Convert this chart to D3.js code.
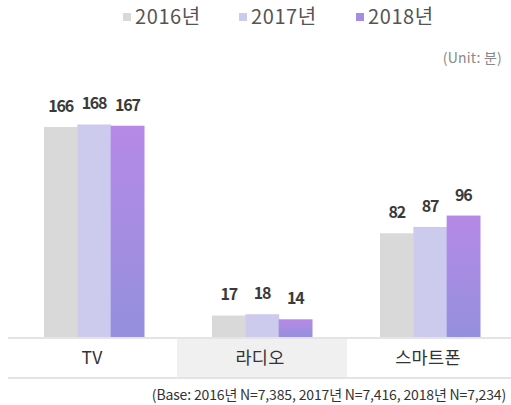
<!DOCTYPE html>
<meta charset="utf-8">
<script src="https://d3js.org/d3.v7.min.js"></script>
<style>
  body { margin: 0; background: #fff; }
  text { font-family: "Noto Sans CJK KR", "Noto Sans", sans-serif; }
  text.legend { font-size: 20px; fill: #555; letter-spacing: 0.6px; }
  text.value { font-size: 16px; font-weight: bold; fill: #3a3a3a; letter-spacing: -1.2px; }
  text.cat { font-size: 17.5px; fill: #333; letter-spacing: 0.3px; }
  text.unit { font-size: 14px; fill: #888; letter-spacing: 0.2px; }
  text.note { font-size: 14px; fill: #333; letter-spacing: -0.15px; }
</style>
<div id="chart"></div>
<script>
// data
var categories = ["TV", "라디오", "스마트폰"];
var years = ["2016년", "2017년", "2018년"];
var v2016 = [166, 17, 82];
var v2017 = [168, 18, 87];
var v2018 = [167, 14, 96];
var series = [v2016, v2017, v2018];

var W = 511, H = 405;
var base = 337, bottom = 378;

var svg = d3.select("#chart").append("svg")
    .attr("width", W)
    .attr("height", H);

var defs = svg.append("defs");
var grad = defs.append("linearGradient")
    .attr("id", "g18")
    .attr("x1", 0).attr("y1", 0).attr("x2", 0).attr("y2", 1);
grad.append("stop").attr("offset", "0%").attr("stop-color", "#b689e6");
grad.append("stop").attr("offset", "100%").attr("stop-color", "#9490dd");

var fills = ["#d9d9d9", "#cccbee", "url(#g18)"];
var legendFills = ["#d9d9d9", "#cccbee", "#a68ce2"];

// scales
var x = d3.scaleBand()
    .domain(categories)
    .range([10, 514])
    .paddingInner(0);

var xs = d3.scaleBand()
    .domain(years)
    .range([0, 100]);

var y = d3.scaleLinear()
    .domain([0, 166])
    .range([base, base - 210]);

// radio band background
svg.append("rect")
    .attr("x", x("라디오") - 1)
    .attr("y", base)
    .attr("width", x.bandwidth() + 2)
    .attr("height", bottom - base)
    .attr("fill", "#f0f0f0");

// bars
var groups = svg.selectAll("g.grp")
    .data(categories)
    .enter()
    .append("g")
    .attr("class", "grp")
    .attr("transform", function(d) { return "translate(" + (x(d) + x.bandwidth() / 2 - 50) + ",0)"; });

groups.each(function(c, ci) {
    var g = d3.select(this);
    years.forEach(function(yr, si) {
        var v = series[si][ci];
        g.append("rect")
            .attr("x", xs(yr))
            .attr("y", y(v))
            .attr("width", xs.bandwidth() + 0.5)
            .attr("height", base - y(v))
            .attr("fill", fills[si]);
        g.append("text")
            .attr("class", "value")
            .attr("x", xs(yr) + xs.bandwidth() / 2)
            .attr("y", y(v) - 15)
            .attr("text-anchor", "middle")
            .text(v);
    });
});

// lines
svg.append("line")
    .attr("x1", 8).attr("x2", W)
    .attr("y1", base + 1).attr("y2", base + 1)
    .attr("stroke", "#e4e4e4")
    .attr("stroke-width", 2);
svg.append("line")
    .attr("x1", 8).attr("x2", W)
    .attr("y1", bottom).attr("y2", bottom)
    .attr("stroke", "#e4e4e4")
    .attr("stroke-width", 2);

// category labels
svg.selectAll("text.cat")
    .data(categories)
    .enter()
    .append("text")
    .attr("class", "cat")
    .attr("x", function(d) { return x(d) + x.bandwidth() / 2 - 2; })
    .attr("y", 364)
    .attr("text-anchor", "middle")
    .text(function(d) { return d; });

// legend
var legX = [123, 239, 356];
years.forEach(function(yr, i) {
    svg.append("rect")
        .attr("x", legX[i])
        .attr("y", 13)
        .attr("width", 8)
        .attr("height", 8)
        .attr("fill", legendFills[i]);
    svg.append("text")
        .attr("class", "legend")
        .attr("x", legX[i] + 12)
        .attr("y", 24)
        .text(yr);
});

svg.append("text")
    .attr("class", "unit")
    .attr("x", 502)
    .attr("y", 63)
    .attr("text-anchor", "end")
    .text("(Unit: 분)");

svg.append("text")
    .attr("class", "note")
    .attr("x", 506)
    .attr("y", 400)
    .attr("text-anchor", "end")
    .text("(Base: 2016년 N=7,385, 2017년 N=7,416, 2018년 N=7,234)");
</script>
